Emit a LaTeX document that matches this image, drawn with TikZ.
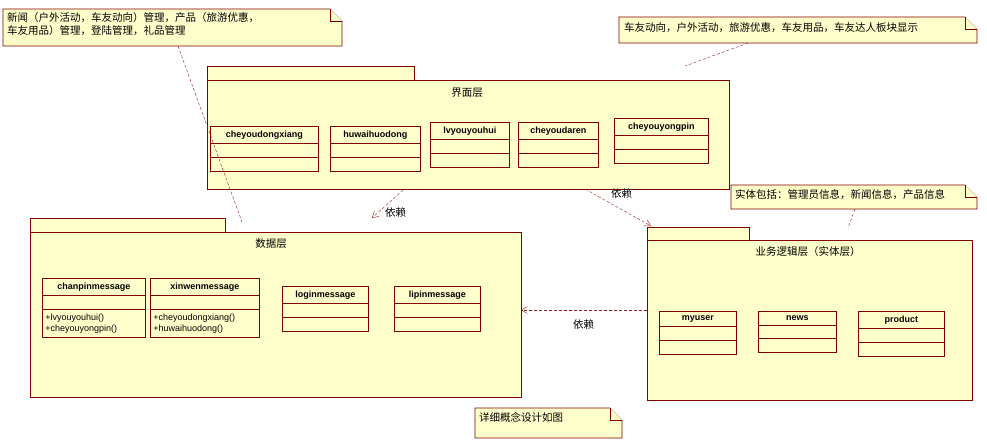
\documentclass[tikz,border=0pt]{standalone}
\usepackage{fontspec}
\setmainfont{Liberation Sans}
\newfontfamily\cjk{Noto Sans CJK SC}
\usetikzlibrary{shapes.multipart, arrows.meta}
\definecolor{umlfill}{RGB}{255,255,204}
\definecolor{umlline}{RGB}{128,0,0}
\definecolor{deplink}{RGB}{150,30,30}
\tikzset{
  pkg/.style = {draw=umlline, fill=umlfill, semithick},
  note/.style = {draw=umlline, fill=umlfill, semithick},
  umlclass/.style = {rectangle split, rectangle split parts=3, draw=umlline, fill=umlfill, semithick,
    anchor=north west, font=\fontsize{9}{11}\selectfont, align=left, inner xsep=3pt, inner ysep=4pt,
    rectangle split part align={center,left,left}},
  notelink/.style = {deplink, densely dashed, thin},
  dep/.style = {deplink, densely dashed, thin, -{Straight Barb[length=6pt,width=7pt]}},
  txt/.style = {font=\cjk\fontsize{10.5}{13}\selectfont, inner sep=0pt, anchor=north west, align=left}
}
\begin{document}
\begin{tikzpicture}[x=1pt, y=-1pt]
    \useasboundingbox (0,0) rectangle (987,446);
    %packages
    \draw [pkg] (207,66) rectangle (414,80);
    \draw [pkg] (207,80) rectangle (729,189);
    \node (uilabel) [txt, anchor=center] at (467,93) {界面层};
    \draw [pkg] (30,218) rectangle (225,232);
    \draw [pkg] (30,232) rectangle (521,397);
    \node (datalabel) [txt, anchor=center] at (271,244) {数据层};
    \draw [pkg] (647,227) rectangle (749,240);
    \draw [pkg] (647,240) rectangle (972,400);
    \node (bizlabel) [txt, anchor=center] at (808,252) {业务逻辑层（实体层）};
    \coordinate (uipkg) at (403,190);
    \coordinate (uipkg2) at (585,189);
    \coordinate (datapkg) at (372,218);
    \coordinate (datapkg2) at (521,310);
    \coordinate (bizpkg) at (651,226);
    \coordinate (bizpkg2) at (647,310);

    %classes
    \node (cyx) [umlclass, minimum width=108pt] at (210,126) {\textbf{cheyoudongxiang}\nodepart{two}\nodepart{three}};
    \node (hwh) [umlclass, minimum width=90pt] at (330,126) {\textbf{huwaihuodong}\nodepart{two}\nodepart{three}};
    \node (lyy) [umlclass, minimum width=79pt] at (430,122) {\textbf{lvyouyouhui}\nodepart{two}\nodepart{three}};
    \node (cyd) [umlclass, minimum width=80pt] at (518,122) {\textbf{cheyoudaren}\nodepart{two}\nodepart{three}};
    \node (cyp) [umlclass, minimum width=94pt] at (614,118) {\textbf{cheyouyongpin}\nodepart{two}\nodepart{three}};

    \node (cpm) [umlclass, minimum width=103pt] at (42,278) {\textbf{chanpinmessage}\nodepart{two}\nodepart{three}+lvyouyouhui()\\+cheyouyongpin()};
    \node (xwm) [umlclass, minimum width=109pt] at (150,278) {\textbf{xinwenmessage}\nodepart{two}\nodepart{three}+cheyoudongxiang()\\+huwaihuodong()};
    \node (lgm) [umlclass, minimum width=86pt] at (282,286) {\textbf{loginmessage}\nodepart{two}\nodepart{three}};
    \node (lpm) [umlclass, minimum width=86pt] at (394,286) {\textbf{lipinmessage}\nodepart{two}\nodepart{three}};

    \node (myuser) [umlclass, minimum width=77pt] at (659,311) {\textbf{myuser}\nodepart{two}\nodepart{three}};
    \node (news) [umlclass, minimum width=78pt] at (758,311) {\textbf{news}\nodepart{two}\nodepart{three}};
    \node (product) [umlclass, minimum width=86pt] at (858,311) {\textbf{product}\nodepart{two}\nodepart{three}};

    %notes
    \draw [note] (3,9) -- (330,9) -- (342,21) -- (342,46) -- (3,46) -- cycle;
    \draw [note] (330,9) -- (330,21) -- (342,21);
    \node (note1) [txt] at (7,12) {新闻（户外活动，车友动向）管理，产品（旅游优惠，\\车友用品）管理，登陆管理，礼品管理};
    \draw [note] (619,17) -- (965,17) -- (977,29) -- (977,43) -- (619,43) -- cycle;
    \draw [note] (965,17) -- (965,29) -- (977,29);
    \node (note2) [txt] at (624,22) {车友动向，户外活动，旅游优惠，车友用品，车友达人板块显示};
    \draw [note] (731,185) -- (965,185) -- (977,197) -- (977,209) -- (731,209) -- cycle;
    \draw [note] (965,185) -- (965,197) -- (977,197);
    \node (note3) [txt] at (735,189) {实体包括：管理员信息，新闻信息，产品信息};
    \draw [note] (475,408) -- (610,408) -- (622,420) -- (622,438) -- (475,438) -- cycle;
    \draw [note] (610,408) -- (610,420) -- (622,420);
    \node (note4) [txt] at (479,412) {详细概念设计如图};

    %links
    \draw [notelink] (178,46) -- (242,222);
    \draw [notelink] (748,43) -- (685,66);
    \draw [notelink] (855,209) -- (848,228);
    \draw [dep] (uipkg) -- (datapkg);
    \node (dep1) [txt] at (385,207) {依赖};
    \draw [dep] (uipkg2) -- (bizpkg);
    \node (dep2) [txt] at (611,188) {依赖};
    \draw [dep] (bizpkg2) -- (datapkg2);
    \node (dep3) [txt] at (573,319) {依赖};
\end{tikzpicture}
\end{document}
